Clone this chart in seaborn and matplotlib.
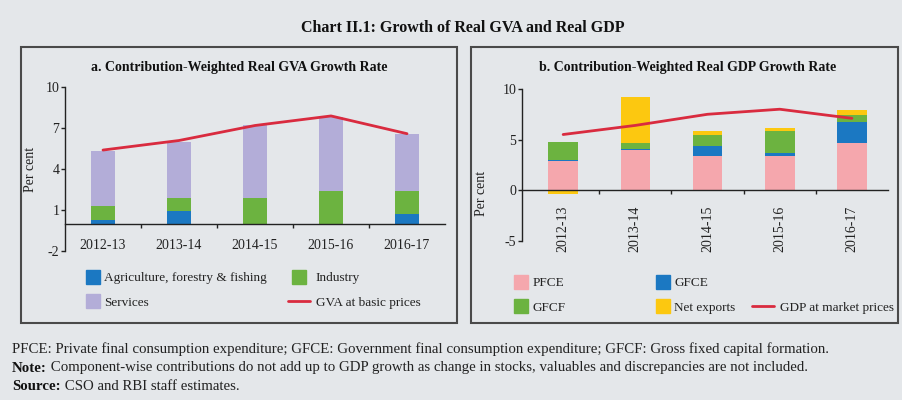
import numpy as np
import matplotlib
matplotlib.use('Agg')
import matplotlib.pyplot as plt
from matplotlib.lines import Line2D
from matplotlib.patches import Rectangle
import seaborn as sns

# data
years = ['2012-13', '2013-14', '2014-15', '2015-16', '2016-17']

# a. GVA contributions
agri = [0.3, 0.9, 0.0, 0.0, 0.7]
industry = [1.0, 1.0, 1.9, 2.4, 1.7]
services = [4.0, 4.1, 5.3, 5.4, 4.2]
gva = [5.4, 6.1, 7.2, 7.9, 6.6]

# b. GDP contributions
pfce = [2.9, 4.0, 3.4, 3.35, 4.7]
gfce = [0.05, 0.05, 1.0, 0.3, 2.0]
gfcf = [1.8, 0.65, 1.05, 2.2, 0.75]
net_exports = [-0.4, 4.5, 0.43, 0.25, 0.5]
gdp = [5.5, 6.4, 7.5, 8.0, 7.1]

BG = '#e4e7ea'
BLUE = '#1b78c2'
GREEN = '#6cb340'
LAVENDER = '#b3add8'
PINK = '#f5a7ad'
YELLOW = '#fcc810'
RED = '#d92b3f'

sns.set_style('ticks')
plt.rcParams['font.family'] = ['Liberation Serif', 'DejaVu Serif']
plt.rcParams['axes.facecolor'] = 'none'
plt.rcParams['axes.unicode_minus'] = False

W, H = 902, 400
fig = plt.figure(figsize=(W / 100, H / 100), dpi=100, facecolor=BG)


def fx(px):
    return px / W


def fy(py):
    return 1 - py / H


def stacked(ax, parts, colors, width):
    x = np.arange(len(years))
    pos = np.zeros(len(years))
    neg = np.zeros(len(years))
    for vals, c in zip(parts, colors):
        v = np.array(vals, dtype=float)
        bottom = np.where(v >= 0, pos, neg)
        ax.bar(x, v, bottom=bottom, width=width, color=c, linewidth=0)
        pos += np.clip(v, 0, None)
        neg += np.clip(v, None, 0)


def style_axis(ax, yticks, ylim, pad, rot):
    ax.set_ylim(*ylim)
    ax.set_yticks(yticks)
    ax.set_xticks(range(len(years)), labels=years)
    ax.set_xticks(np.arange(0.5, len(years) - 1), minor=True)
    ax.spines['bottom'].set_position(('data', 0))
    ax.spines['top'].set_visible(False)
    ax.spines['right'].set_visible(False)
    for s in ['left', 'bottom']:
        ax.spines[s].set_color('#222222')
        ax.spines[s].set_linewidth(1.0)
    ax.tick_params(axis='x', which='major', length=0, pad=pad, labelsize=10,
                   colors='#222222', labelrotation=rot)
    ax.tick_params(axis='x', which='minor', length=3, width=1, color='#222222', direction='out')
    ax.tick_params(axis='y', length=3, width=1, labelsize=10, pad=1, colors='#222222')
    ax.set_xlabel('')
    ax.set_ylabel('Per cent', fontsize=10, color='#222222')


# panel boxes
for x0, x1 in [(21, 457), (471, 898)]:
    fig.patches.append(Rectangle((fx(x0), fy(323)), fx(x1 - x0), (323 - 47) / H,
                                 transform=fig.transFigure, fill=False,
                                 edgecolor='#4a4a4a', linewidth=1.5))

# ---- panel a
ax1 = fig.add_axes([fx(65), fy(251), fx(380), (251 - 87.3) / H])
stacked(ax1, [agri, industry, services], [BLUE, GREEN, LAVENDER], 0.31)
sns.lineplot(x=np.arange(len(years)), y=gva, ax=ax1, color=RED, linewidth=2)
ax1.set_xlim(-0.5, 4.5)
style_axis(ax1, [-2, 1, 4, 7, 10], (-2, 10), 11, 0)
ax1.yaxis.set_label_coords(-0.074, 0.5)

# ---- panel b
ax2 = fig.add_axes([fx(522), fy(240.7), fx(366), (240.7 - 89) / H])
stacked(ax2, [pfce, gfce, gfcf, net_exports], [PINK, BLUE, GREEN, YELLOW], 0.41)
sns.lineplot(x=np.arange(len(years)), y=gdp, ax=ax2, color=RED, linewidth=2)
ax2.set_xlim(-0.57, 4.5)
style_axis(ax2, [-5, 0, 5, 10], (-5, 10), 11, 90)
ax2.yaxis.set_label_coords(-0.093, 0.31)


# legends
def sq(c):
    return Line2D([], [], marker='s', markersize=10, linestyle='none',
                  markerfacecolor=c, markeredgecolor=c)


def ln(c):
    return Line2D([], [], color=c, linewidth=2)


blank = Line2D([], [], linestyle='none')


def legend_col(handles, labels, x, y, hl):
    leg = fig.legend(handles, labels, loc='upper left', bbox_to_anchor=(fx(x), fy(y)),
                     frameon=False, fontsize=9.5, handlelength=hl, handletextpad=0.4,
                     borderpad=0, borderaxespad=0, labelspacing=0.95)
    for t in leg.get_texts():
        t.set_color('#222222')
    return leg


legend_col([sq(BLUE), sq(LAVENDER)], ['Agriculture, forestry & fishing', 'Services'], 86, 272, 1.0)
legend_col([sq(GREEN), ln(RED)], ['Industry', 'GVA at basic prices'], 288, 272, 1.7)
legend_col([sq(PINK), sq(GREEN)], ['PFCE', 'GFCF'], 514, 277, 1.0)
legend_col([sq(BLUE), sq(YELLOW)], ['GFCE', 'Net exports'], 656, 277, 1.0)
legend_col([blank, ln(RED)], ['', 'GDP at market prices'], 752, 277, 1.7)

# titles
fig.text(fx(463), fy(28), 'Chart II.1: Growth of Real GVA and Real GDP', ha='center', va='center',
         fontsize=11.5, fontweight='bold', color='#111111')
fig.text(fx(239), fy(68), 'a. Contribution-Weighted Real GVA Growth Rate', ha='center', va='center',
         fontsize=10, fontweight='bold', color='#111111')
fig.text(fx(688), fy(68), 'b. Contribution-Weighted Real GDP Growth Rate', ha='center', va='center',
         fontsize=10, fontweight='bold', color='#111111')

# footnotes
FS = 10.7
fig.text(fx(12), fy(349), 'PFCE: Private final consumption expenditure; GFCE: Government final '
         'consumption expenditure; GFCF: Gross fixed capital formation.',
         va='center', fontsize=FS, color='#222222')
fig.canvas.draw()
rend = fig.canvas.get_renderer()
for yy, head, rest in [(368, 'Note:', ' Component-wise contributions do not add up to GDP growth as change '
                        'in stocks, valuables and discrepancies are not included.'),
                       (386, 'Source:', ' CSO and RBI staff estimates.')]:
    t = fig.text(fx(12), fy(yy), head, va='center', fontsize=FS, fontweight='bold', color='#111111')
    bb = t.get_window_extent(rend)
    fig.text(bb.x1 / W, fy(yy), rest, va='center', fontsize=FS, color='#222222')

fig.savefig('out.png', dpi=100, facecolor=BG)
